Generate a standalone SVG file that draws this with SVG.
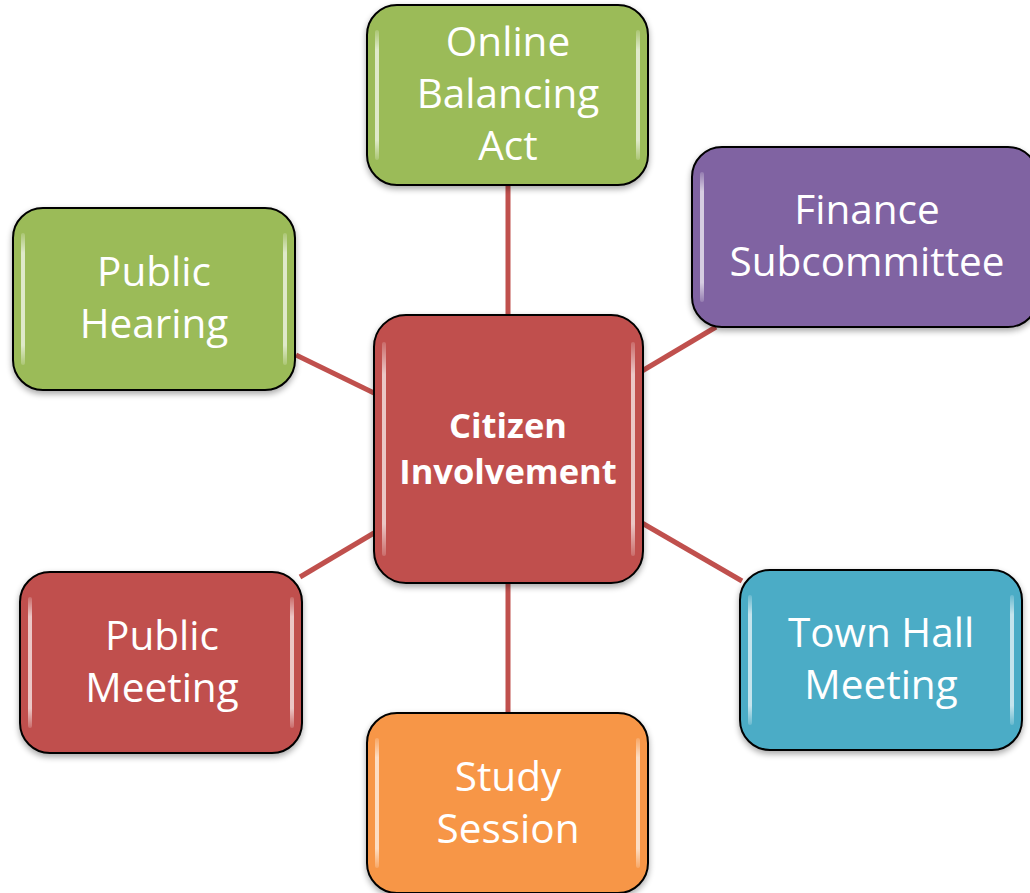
<svg xmlns="http://www.w3.org/2000/svg" width="1030" height="893" viewBox="0 0 1030 893">
<defs>
<style>
.box{stroke:#000;stroke-width:2}
.lbl{font-family:"Open Sans","Noto Sans",sans-serif;font-size:40.5px;fill:#fff;text-anchor:middle}
.ctr{font-family:"Open Sans","Noto Sans",sans-serif;font-size:34.5px;font-weight:bold;fill:#fff;text-anchor:middle}
.conn{stroke:#C0504D;stroke-width:5;fill:none}
.hl{fill:url(#hlg);opacity:0.85}
</style>
<linearGradient id="hlg" x1="0" y1="0" x2="0" y2="1">
<stop offset="0" stop-color="#fff" stop-opacity="0.2"/>
<stop offset="0.15" stop-color="#fff" stop-opacity="0.8"/>
<stop offset="0.85" stop-color="#fff" stop-opacity="0.8"/>
<stop offset="1" stop-color="#fff" stop-opacity="0.2"/>
</linearGradient>
<filter id="sh" x="-10%" y="-10%" width="120%" height="125%">
<feGaussianBlur in="SourceAlpha" stdDeviation="3"/>
<feOffset dx="0" dy="3" result="b"/>
<feComponentTransfer><feFuncA type="linear" slope="0.35"/></feComponentTransfer>
<feMerge><feMergeNode/><feMergeNode in="SourceGraphic"/></feMerge>
</filter>
</defs>
<rect width="1030" height="893" fill="#fff"/>
<g id="connectors">
<line class="conn" x1="508" y1="186" x2="508" y2="316"/>
<line class="conn" x1="296" y1="355" x2="374" y2="393"/>
<line class="conn" x1="716" y1="327" x2="642" y2="371"/>
<line class="conn" x1="300" y1="577" x2="374" y2="533"/>
<line class="conn" x1="642" y1="523" x2="742" y2="581"/>
<line class="conn" x1="508" y1="583" x2="508" y2="713"/>
</g>
<g id="node-online">
<rect class="box" x="367" y="5" width="281" height="180" rx="30" fill="#9BBB59" filter="url(#sh)"/>
<rect class="hl" x="375" y="30" width="4" height="130" rx="2"/>
<rect class="hl" x="636" y="30" width="4" height="130" rx="2"/>
<text class="lbl" x="508" y="56">Online</text>
<text class="lbl" x="508" y="108">Balancing</text>
<text class="lbl" x="508" y="160">Act</text>
</g>
<g id="node-finance">
<rect class="box" x="692" y="147" width="346" height="180" rx="30" fill="#8064A2" filter="url(#sh)"/>
<rect class="hl" x="700" y="172" width="4" height="130" rx="2"/>
<text class="lbl" x="867" y="224">Finance</text>
<text class="lbl" x="867" y="276">Subcommittee</text>
</g>
<g id="node-hearing">
<rect class="box" x="13" y="208" width="282" height="182" rx="30" fill="#9BBB59" filter="url(#sh)"/>
<rect class="hl" x="21" y="233" width="4" height="132" rx="2"/>
<rect class="hl" x="283" y="233" width="4" height="132" rx="2"/>
<text class="lbl" x="154" y="286">Public</text>
<text class="lbl" x="154" y="338">Hearing</text>
</g>
<g id="node-center">
<rect class="box" x="374" y="315" width="269" height="268" rx="32" fill="#C0504D" filter="url(#sh)"/>
<rect class="hl" x="382" y="342" width="4" height="214" rx="2"/>
<rect class="hl" x="631" y="342" width="4" height="214" rx="2"/>
<text class="ctr" x="508" y="438">Citizen</text>
<text class="ctr" x="508" y="484">Involvement</text>
</g>
<g id="node-meeting">
<rect class="box" x="20" y="572" width="282" height="181" rx="30" fill="#C0504D" filter="url(#sh)"/>
<rect class="hl" x="28" y="597" width="4" height="131" rx="2"/>
<rect class="hl" x="290" y="597" width="4" height="131" rx="2"/>
<text class="lbl" x="162" y="650">Public</text>
<text class="lbl" x="162" y="702">Meeting</text>
</g>
<g id="node-townhall">
<rect class="box" x="740" y="570" width="282" height="180" rx="30" fill="#4BACC6" filter="url(#sh)"/>
<rect class="hl" x="748" y="595" width="4" height="130" rx="2"/>
<rect class="hl" x="1010" y="595" width="4" height="130" rx="2"/>
<text class="lbl" x="881" y="647">Town Hall</text>
<text class="lbl" x="881" y="699">Meeting</text>
</g>
<g id="node-study">
<rect class="box" x="367" y="713" width="281" height="180" rx="30" fill="#F79646" filter="url(#sh)"/>
<rect class="hl" x="375" y="738" width="4" height="130" rx="2"/>
<rect class="hl" x="636" y="738" width="4" height="130" rx="2"/>
<text class="lbl" x="508" y="791">Study</text>
<text class="lbl" x="508" y="843">Session</text>
</g>
</svg>
